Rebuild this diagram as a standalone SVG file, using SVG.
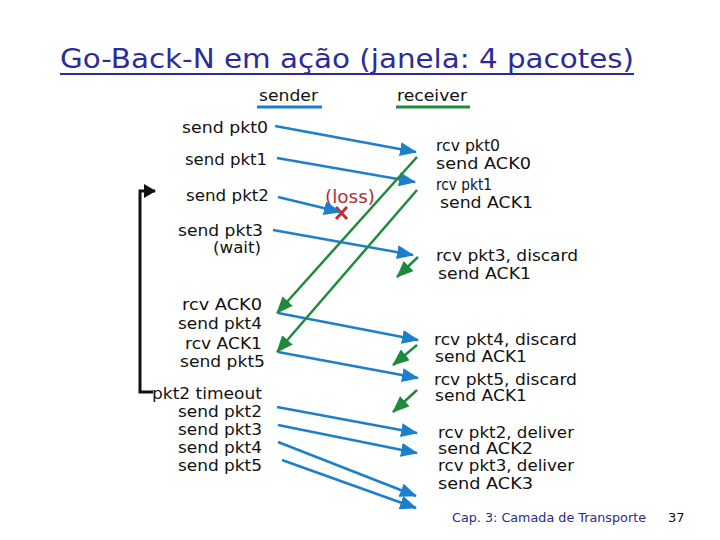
<svg xmlns="http://www.w3.org/2000/svg" width="720" height="540" viewBox="0 0 720 540">
<style>
text{font-family:"DejaVu Sans","Liberation Sans",sans-serif;fill:#111}
.s{font-size:16px;text-anchor:end}
.r{font-size:16px}
.b{stroke:#1b7fcc;stroke-width:2.5;fill:none;marker-end:url(#ab)}
.g{stroke:#1f8a3c;stroke-width:2.5;fill:none;marker-end:url(#ag)}
</style>
<defs>
<marker id="ab" markerUnits="userSpaceOnUse" markerWidth="17" markerHeight="14" viewBox="0 0 17 14" refX="16" refY="7" orient="auto"><path d="M0,0 L17,7 L0,14 Z" fill="#1b7fcc"/></marker>
<marker id="ag" markerUnits="userSpaceOnUse" markerWidth="17" markerHeight="14" viewBox="0 0 17 14" refX="16" refY="7" orient="auto"><path d="M0,0 L17,7 L0,14 Z" fill="#1f8a3c"/></marker>
<marker id="ak" markerUnits="userSpaceOnUse" markerWidth="12" markerHeight="14" viewBox="0 0 12 14" refX="11" refY="7" orient="auto"><path d="M0,0 L12,7 L0,14 Z" fill="#111"/></marker>
</defs>
<g id="title">
<text x="60" y="68" style="font-size:26px;fill:#2b2b9b" textLength="574" lengthAdjust="spacingAndGlyphs">Go-Back-N em ação (janela: 4 pacotes)</text>
<line x1="60" y1="74" x2="634" y2="74" stroke="#2b2b9b" stroke-width="2"/>
</g>
<g id="headers">
<text x="259" y="101" class="r" textLength="59" lengthAdjust="spacingAndGlyphs">sender</text>
<line x1="257" y1="107" x2="322" y2="107" stroke="#1b7fcc" stroke-width="3"/>
<text x="397" y="101" class="r" textLength="70" lengthAdjust="spacingAndGlyphs">receiver</text>
<line x1="396" y1="107" x2="470" y2="107" stroke="#1f8a3c" stroke-width="3"/>
</g>
<g id="sender">
<text x="268" y="133" class="s" textLength="86" lengthAdjust="spacingAndGlyphs">send pkt0</text>
<text x="267" y="165" class="s" textLength="82" lengthAdjust="spacingAndGlyphs">send pkt1</text>
<text x="269" y="201" class="s" textLength="83" lengthAdjust="spacingAndGlyphs">send pkt2</text>
<text x="263" y="236" class="s" textLength="85" lengthAdjust="spacingAndGlyphs">send pkt3</text>
<text x="261" y="253" class="s" textLength="48" lengthAdjust="spacingAndGlyphs">(wait)</text>
<text x="262" y="310" class="s" textLength="80" lengthAdjust="spacingAndGlyphs">rcv ACK0</text>
<text x="262" y="329" class="s" textLength="84" lengthAdjust="spacingAndGlyphs">send pkt4</text>
<text x="262" y="349" class="s" textLength="77" lengthAdjust="spacingAndGlyphs">rcv ACK1</text>
<text x="265" y="367" class="s" textLength="85" lengthAdjust="spacingAndGlyphs">send pkt5</text>
<text x="262" y="399" class="s" textLength="110" lengthAdjust="spacingAndGlyphs">pkt2 timeout</text>
<text x="262" y="417" class="s" textLength="84" lengthAdjust="spacingAndGlyphs">send pkt2</text>
<text x="262" y="435" class="s" textLength="84" lengthAdjust="spacingAndGlyphs">send pkt3</text>
<text x="262" y="453" class="s" textLength="84" lengthAdjust="spacingAndGlyphs">send pkt4</text>
<text x="262" y="471" class="s" textLength="84" lengthAdjust="spacingAndGlyphs">send pkt5</text>
</g>
<g id="receiver">
<text x="436" y="151" class="r" textLength="64" lengthAdjust="spacingAndGlyphs">rcv pkt0</text>
<text x="436" y="169" class="r" textLength="95" lengthAdjust="spacingAndGlyphs">send ACK0</text>
<text x="436" y="190" class="r" textLength="56" lengthAdjust="spacingAndGlyphs">rcv pkt1</text>
<text x="440" y="208" class="r" textLength="93" lengthAdjust="spacingAndGlyphs">send ACK1</text>
<text x="436" y="261" class="r" textLength="142" lengthAdjust="spacingAndGlyphs">rcv pkt3, discard</text>
<text x="438" y="279" class="r" textLength="93" lengthAdjust="spacingAndGlyphs">send ACK1</text>
<text x="434" y="345" class="r" textLength="143" lengthAdjust="spacingAndGlyphs">rcv pkt4, discard</text>
<text x="435" y="362" class="r" textLength="92" lengthAdjust="spacingAndGlyphs">send ACK1</text>
<text x="434" y="385" class="r" textLength="143" lengthAdjust="spacingAndGlyphs">rcv pkt5, discard</text>
<text x="435" y="401" class="r" textLength="92" lengthAdjust="spacingAndGlyphs">send ACK1</text>
<text x="438" y="438" class="r" textLength="136" lengthAdjust="spacingAndGlyphs">rcv pkt2, deliver</text>
<text x="438" y="454" class="r" textLength="95" lengthAdjust="spacingAndGlyphs">send ACK2</text>
<text x="438" y="471" class="r" textLength="136" lengthAdjust="spacingAndGlyphs">rcv pkt3, deliver</text>
<text x="438" y="489" class="r" textLength="95" lengthAdjust="spacingAndGlyphs">send ACK3</text>
</g>
<g id="loss">
<text x="325" y="203" style="font-size:17px;fill:#b03030" textLength="50" lengthAdjust="spacingAndGlyphs">(loss)</text>
<path d="M336,207 L347,219 M347,207 L336,219" stroke="#c0302a" stroke-width="3"/>
</g>
<g id="timeout-bracket">
<path d="M153,392 L140,392 L140,191 L155,191" stroke="#111" stroke-width="3" fill="none" marker-end="url(#ak)"/>
</g>
<g id="connectors">
<line class="b" x1="275" y1="126" x2="416" y2="152"/>
<line class="b" x1="277" y1="158" x2="415" y2="182"/>
<line class="b" x1="278" y1="197" x2="340" y2="212"/>
<line class="b" x1="273" y1="230" x2="413" y2="255"/>
<line class="b" x1="278" y1="313" x2="418" y2="340"/>
<line class="b" x1="278" y1="352" x2="418" y2="378"/>
<line class="b" x1="277" y1="407" x2="417" y2="433"/>
<line class="b" x1="278" y1="425" x2="417" y2="453"/>
<line class="b" x1="278" y1="442" x2="416" y2="496"/>
<line class="b" x1="282" y1="460" x2="416" y2="508"/>
<line class="g" x1="417" y1="157" x2="277" y2="313"/>
<line class="g" x1="417" y1="190" x2="277" y2="352"/>
<line class="g" x1="418" y1="257" x2="397" y2="277"/>
<line class="g" x1="417" y1="345" x2="393" y2="365"/>
<line class="g" x1="417" y1="390" x2="393" y2="412"/>
</g>
<g id="footer">
<text x="452" y="522" style="font-size:13px;fill:#2b2b8b" textLength="194" lengthAdjust="spacingAndGlyphs">Cap. 3: Camada de Transporte</text>
<text x="668" y="522" style="font-size:13px">37</text>
</g>
</svg>
